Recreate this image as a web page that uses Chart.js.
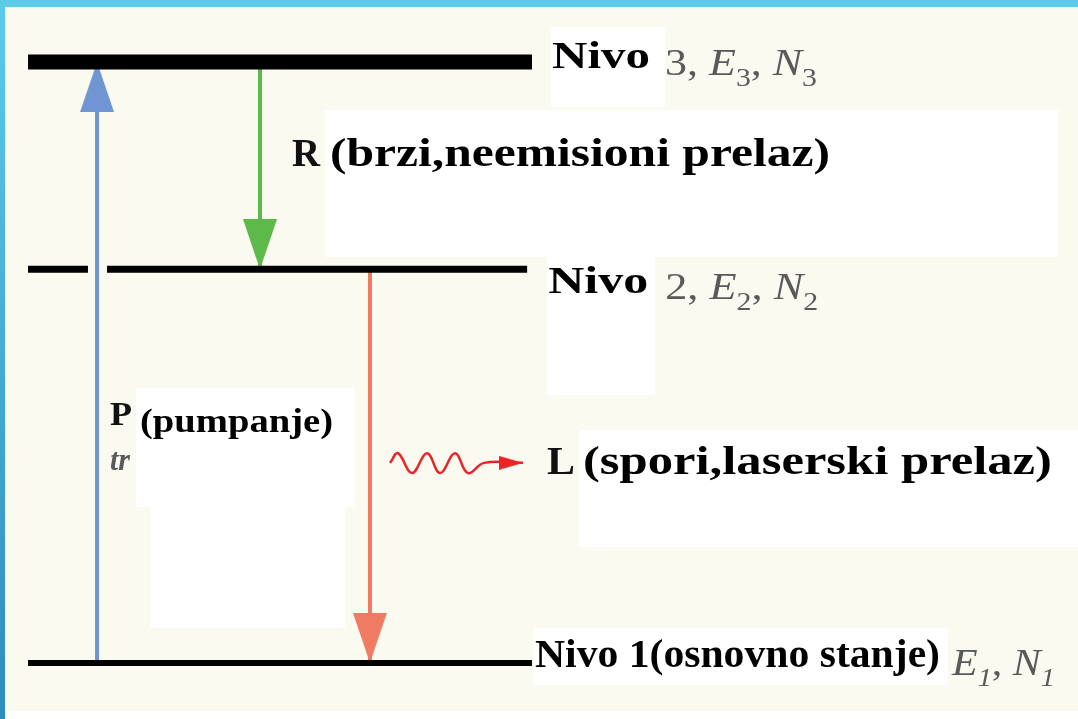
<!DOCTYPE html>
<html>
<head>
<meta charset="utf-8">
<script src="https://cdn.jsdelivr.net/npm/chart.js@4.4.1/dist/chart.umd.min.js"></script>
<style>
  html, body { margin: 0; padding: 0; overflow: hidden; background: #fbfaf0; }
  #wrap { width: 1078px; height: 719px; position: relative; }
</style>
</head>
<body>
<div id="wrap"><canvas id="levelsChart"></canvas></div>
<script>
// energy levels, arbitrary units (E1 = 0)
const levelLabels = ["Nivo", "Nivo", "Nivo 1(osnovno stanje)"];
const levelIndex = ["3", "2", "1"];
const levelEnergy = [10, 6.55, 0];
const levelStart = [2.6, 2.6, 2.6];
const levelEnd = [49.35, 48.9, 49.35];
const levelGap = [null, [8.16, 9.93], null];

// transitions between levels
const transLetters = ["P", "R", "L"];
const transNames = ["(pumpanje)", "(brzi,neemisioni prelaz)", "(spori,laserski prelaz)"];
const transX = [9.0, 24.12, 34.32];
const transFrom = [2, 0, 1];
const transTo = [0, 1, 2];

// emitted photon (wavy arrow)
const photonX = [36.18, 36.92, 38.22, 39.61, 40.82, 42.21, 43.41, 44.9, 48.52];
const photonE = [3.33, 3.49, 3.16, 3.49, 3.16, 3.49, 3.16, 3.33, 3.33];

const SERIF = '"Liberation Serif", "Times New Roman", serif';
const levelWidths = [15, 7, 6];
const transColors = ["#6f95d2", "#5cb94a", "#ef7b63"];
const photonColor = "#e8262a";

function arrowHead(w, len, color) {
  const c = document.createElement("canvas");
  c.width = w;
  c.height = len * 2;
  const g = c.getContext("2d");
  g.fillStyle = color;
  g.beginPath();
  g.moveTo(w / 2, len);
  g.lineTo(w, len * 2);
  g.lineTo(0, len * 2);
  g.closePath();
  g.fill();
  return c;
}

const datasets = [];

levelEnergy.forEach((e, i) => {
  let pts;
  if (levelGap[i]) {
    pts = [
      { x: levelStart[i], y: e }, { x: levelGap[i][0], y: e },
      { x: levelGap[i][0], y: null },
      { x: levelGap[i][1], y: e }, { x: levelEnd[i], y: e }
    ];
  } else {
    pts = [{ x: levelStart[i], y: e }, { x: levelEnd[i], y: e }];
  }
  datasets.push({
    label: "Nivo " + levelIndex[i],
    data: pts,
    showLine: true,
    spanGaps: false,
    borderColor: "#000",
    borderWidth: levelWidths[i],
    borderCapStyle: "butt",
    pointRadius: 0
  });
});

transX.forEach((x, i) => {
  const up = levelEnergy[transTo[i]] > levelEnergy[transFrom[i]];
  datasets.push({
    label: transLetters[i],
    data: [
      { x: x, y: levelEnergy[transFrom[i]] },
      { x: x, y: levelEnergy[transTo[i]] }
    ],
    showLine: true,
    borderColor: transColors[i],
    borderWidth: 4,
    pointRadius: [0, 1],
    pointStyle: arrowHead(34, 50, transColors[i]),
    pointRotation: up ? 0 : 180
  });
});

datasets.push({
  label: "foton",
  data: photonX.map((x, i) => ({ x: x, y: photonE[i] })),
  showLine: true,
  tension: 0.4,
  borderColor: photonColor,
  borderWidth: 2.5,
  pointRadius: photonX.map((_, i) => (i === photonX.length - 1 ? 1 : 0)),
  pointStyle: arrowHead(14, 24, photonColor),
  pointRotation: 90
});

// text helpers
function fitText(ctx, text, x, y, font, width, color) {
  ctx.font = font;
  const w = ctx.measureText(text).width;
  ctx.save();
  ctx.translate(x, y);
  ctx.scale(width / w, 1);
  ctx.fillStyle = color;
  ctx.textBaseline = "alphabetic";
  ctx.fillText(text, 0, 0);
  ctx.restore();
}

function richText(ctx, segs, x, y, size, width, color) {
  const fontOf = (s) => (s.it ? "italic " : "") + Math.round(s.sub ? size * 0.68 : size) + "px " + SERIF;
  let total = 0;
  segs.forEach((s) => { ctx.font = fontOf(s); total += ctx.measureText(s.t).width; });
  ctx.save();
  ctx.translate(x, y);
  ctx.scale(width / total, 1);
  ctx.fillStyle = color;
  let cx = 0;
  segs.forEach((s) => {
    ctx.font = fontOf(s);
    ctx.fillText(s.t, cx, s.sub ? size * 0.3 : 0);
    cx += ctx.measureText(s.t).width;
  });
  ctx.restore();
}

const backdrop = {
  id: "backdrop",
  beforeDraw(chart) {
    const ctx = chart.ctx;
    const W = chart.width, H = chart.height;
    ctx.save();
    ctx.fillStyle = "#fbfaf0";
    ctx.fillRect(0, 0, W, H);
    ctx.fillStyle = "#ffffff";
    [[551, 27, 114, 80], [325, 110, 733, 147], [547, 257, 108, 138],
     [136, 388, 219, 119], [150, 507, 195, 121], [579, 430, 499, 117],
     [533, 628, 415, 57], [0, 711, W, H - 711]].forEach((r) => ctx.fillRect(r[0], r[1], r[2], r[3]));
    const grad = ctx.createLinearGradient(0, 0, 0, H);
    grad.addColorStop(0, "#5ccbe8");
    grad.addColorStop(1, "#2e8cc0");
    ctx.fillStyle = grad;
    ctx.fillRect(0, 0, 5, H);
    ctx.fillStyle = "#5ccbe8";
    ctx.fillRect(0, 0, W, 7);
    ctx.restore();
  }
};

const labels = {
  id: "labels",
  afterDatasetsDraw(chart) {
    const ctx = chart.ctx;
    const xs = chart.scales.x, ys = chart.scales.y;
    const gray = "#5a5a5a";
    const lv = [
      { dx: 20, dy: 6, size: 38, w: 98, sdx: 133, sdy: 13, sw: 152 },
      { dx: 21, dy: 24, size: 38, w: 100, sdx: 138, sdy: 30, sw: 153 },
      { dx: 3, dy: 4, size: 40, w: 405, sdx: 420, sdy: 12, sw: 103 }
    ];
    levelLabels.forEach((t, i) => {
      const x0 = xs.getPixelForValue(levelEnd[i]);
      const y0 = ys.getPixelForValue(levelEnergy[i]);
      const L = lv[i];
      fitText(ctx, t, x0 + L.dx, y0 + L.dy, "bold " + L.size + "px " + SERIF, L.w, "#000");
      const n = levelIndex[i];
      const last = i === levelIndex.length - 1;
      const segs = [];
      if (!last) segs.push({ t: n + ", " });
      segs.push({ t: "E", it: true }, { t: n, sub: true, it: last }, { t: ", " },
                { t: "N", it: true }, { t: n, sub: true, it: last });
      richText(ctx, segs, x0 + L.sdx, y0 + L.sdy, 37, L.sw, gray);
    });

    const tr = [
      { lx: 13, ly: 425, ls: 34, lw: 22, nx: 43, ny: 432, ns: 33, nw: 193 },
      { lx: 32, ly: 166, ls: 40, lw: 28, nx: 70, ny: 166, ns: 41, nw: 500 },
      { lx: 177, ly: 474, ls: 41, lw: 28, nx: 213, ny: 474, ns: 41, nw: 469 }
    ];
    transLetters.forEach((t, i) => {
      const x0 = xs.getPixelForValue(transX[i]);
      const T = tr[i];
      fitText(ctx, t, x0 + T.lx, T.ly, "bold " + T.ls + "px " + SERIF, T.lw, "#111");
      fitText(ctx, transNames[i], x0 + T.nx, T.ny, "bold " + T.ns + "px " + SERIF, T.nw, "#000");
    });
    fitText(ctx, "tr", xs.getPixelForValue(transX[0]) + 13, 470, "italic bold 32px " + SERIF, 20, gray);
  }
};

const ctx = document.getElementById("levelsChart").getContext("2d");
new Chart(ctx, {
  type: "scatter",
  data: { datasets: datasets },
  options: {
    responsive: true,
    maintainAspectRatio: false,
    animation: false,
    events: [],
    layout: { padding: 0, autoPadding: false },
    scales: {
      x: { type: "linear", min: 0, max: 100, display: false },
      y: { type: "linear", min: -0.932, max: 11.032, display: false }
    },
    plugins: {
      legend: { display: false },
      tooltip: { enabled: false }
    }
  },
  plugins: [backdrop, labels]
});
</script>
</body>
</html>
